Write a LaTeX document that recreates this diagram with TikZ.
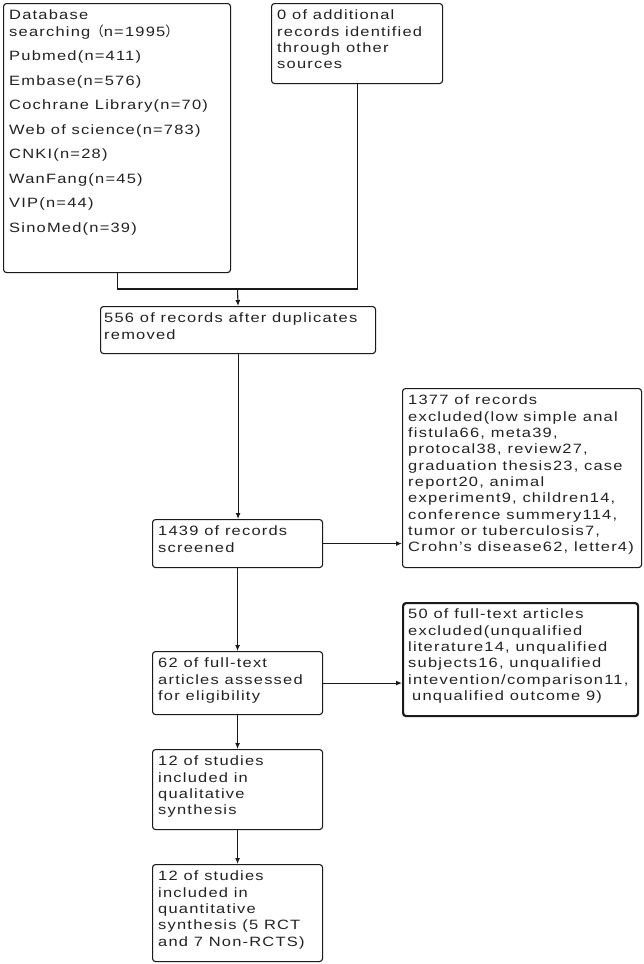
\documentclass[tikz,border=0pt]{standalone}
\usepackage{fontspec}
\setmainfont{Liberation Sans}[FakeStretch=1.22,LetterSpace=9]
\newfontfamily\cjk{Noto Sans CJK SC}
\usetikzlibrary{arrows.meta}
\definecolor{linec}{HTML}{1A1A1A}
\definecolor{textc}{HTML}{222222}
\begin{document}
\begin{tikzpicture}[x=1pt,y=-1pt,
  box/.style={draw=linec, line width=1.1pt, rounded corners=3pt, anchor=north west, inner sep=0pt},
  txt/.style={anchor=north west, inner sep=0pt, align=left, font=\fontsize{13.5}{16.3}\selectfont, text=textc},
  arr/.style={draw=linec, line width=1.1pt, -{Latex[length=6pt,width=5pt]}},
  ln/.style={draw=linec, line width=1.1pt}]
\useasboundingbox[fill=white] (0,0) rectangle (643,964);
% boxes
\node[box, minimum width=227pt, minimum height=269pt] (b1) at (3,3) {};
\node[box, minimum width=171pt, minimum height=80pt] (b2) at (271,3) {};
\node[box, minimum width=275pt, minimum height=47pt] (b3) at (100,306) {};
\node[box, minimum width=170pt, minimum height=48pt] (b4) at (152,519) {};
\node[box, minimum width=239pt, minimum height=179pt] (b5) at (402,388) {};
\node[box, minimum width=170pt, minimum height=63pt] (b6) at (152,651) {};
\node[box, line width=2.2pt, minimum width=235pt, minimum height=113pt] (b7) at (402,602) {};
\node[box, minimum width=170pt, minimum height=80pt] (b8) at (152,749) {};
\node[box, minimum width=170pt, minimum height=97pt] (b9) at (152,864) {};
% texts
\node[txt] (t1) at ([shift={(6pt,-7pt)}]b1.north west) {Database\\searching{\cjk （}n=1995{\cjk ）}\\[8.2pt]Pubmed(n=411)\\[8.2pt]Embase(n=576)\\[8.2pt]Cochrane Library(n=70)\\[8.2pt]Web of science(n=783)\\[8.2pt]CNKI(n=28)\\[8.2pt]WanFang(n=45)\\[8.2pt]VIP(n=44)\\[8.2pt]SinoMed(n=39)};
\node[txt] (t2) at ([shift={(6pt,-7pt)}]b2.north west) {0 of additional\\records identified\\through other\\sources};
\node[txt] (t3) at ([shift={(4pt,-7pt)}]b3.north west) {556 of records after duplicates\\removed};
\node[txt] (t4) at ([shift={(6pt,-7pt)}]b4.north west) {1439 of records\\screened};
\node[txt] (t5) at ([shift={(6pt,-7pt)}]b5.north west) {1377 of records\\excluded(low simple anal\\fistula66, meta39,\\protocal38, review27,\\graduation thesis23, case\\report20, animal\\experiment9, children14,\\conference summery114,\\tumor or tuberculosis7,\\Crohn's disease62, letter4)};
\node[txt] (t6) at ([shift={(6pt,-7pt)}]b6.north west) {62 of full-text\\articles assessed\\for eligibility};
\node[txt] (t7) at ([shift={(6pt,-7pt)}]b7.north west) {50 of full-text articles\\excluded(unqualified\\literature14, unqualified\\subjects16, unqualified\\intevention/comparison11,\\\hspace{4pt}unqualified outcome 9)};
\node[txt] (t8) at ([shift={(6pt,-7pt)}]b8.north west) {12 of studies\\included in\\qualitative\\synthesis};
\node[txt] (t9) at ([shift={(6pt,-7pt)}]b9.north west) {12 of studies\\included in\\quantitative\\synthesis (5 RCT\\and 7 Non-RCTS)};
% connectors
\coordinate (j) at (237.5,289);
\draw[ln] (b1.south) |- (j);
\draw[ln] (b2.south) |- (j);
\draw[arr] (j) -- (b3.north);
\draw[arr] (b3.south) -- (b3.south |- b4.north);
\draw[arr] (b4.east) -- (b4.east -| b5.west);
\draw[arr] (b4.south) -- (b6.north);
\draw[arr] (b6.east) -- (b6.east -| b7.west);
\draw[arr] (b6.south) -- (b8.north);
\draw[arr] (b8.south) -- (b9.north);
\end{tikzpicture}
\end{document}
